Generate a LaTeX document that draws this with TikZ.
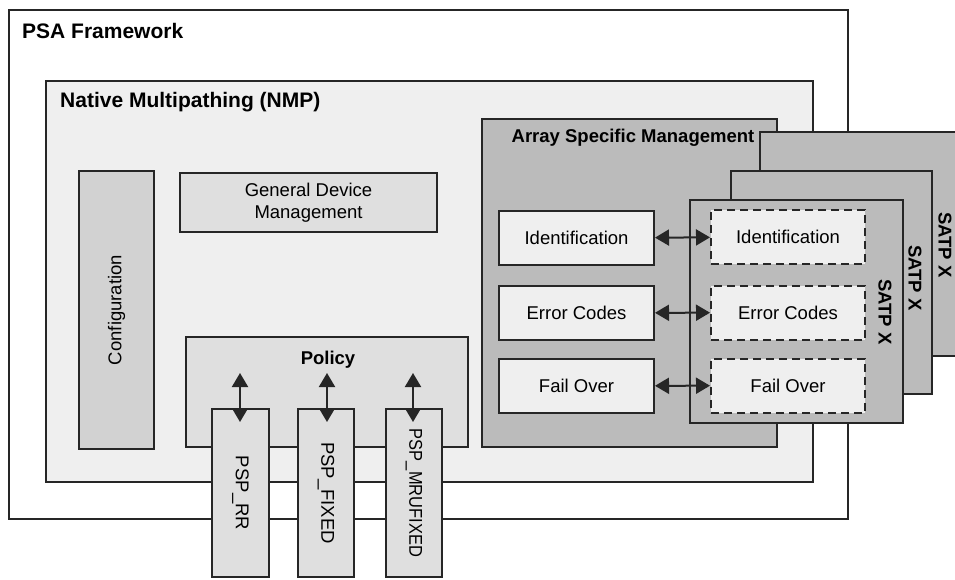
\documentclass[tikz,border=0pt]{standalone}
\usepackage{fontspec}
\setmainfont{Liberation Sans}
\usetikzlibrary{arrows.meta,calc}

\definecolor{edge}{HTML}{262626}
\definecolor{nmpfill}{HTML}{EFEFEF}
\definecolor{cfgfill}{HTML}{D2D2D2}
\definecolor{modfill}{HTML}{DFDFDF}
\definecolor{asmfill}{HTML}{BBBBBB}
\definecolor{itemfill}{HTML}{EFEFEF}

\tikzset{
  box/.style={draw=edge, line width=2pt, rectangle, inner sep=0pt},
  title/.style={font=\fontsize{21}{24}\selectfont\bfseries, anchor=west, inner sep=0pt},
  subtitle/.style={font=\fontsize{18.5}{22}\selectfont\bfseries, inner sep=0pt},
  body/.style={font=\fontsize{18.5}{21.7}\selectfont, align=center},
  item/.style={box, fill=itemfill, body, minimum width=155pt, minimum height=54pt},
  satpitem/.style={item, dash pattern=on 8pt off 5pt, minimum width=154pt},
  satpbox/.style={draw=edge, line width=2pt, fill=asmfill},
  psp/.style={box, fill=modfill, body, minimum width=57pt, minimum height=168pt},
  link/.style={draw=edge, line width=2pt, {Triangle[length=14pt,width=16pt]}-{Triangle[length=14pt,width=16pt]}}
}

\begin{document}
\begin{tikzpicture}[x=1pt,y=-1pt]
\useasboundingbox (0,0) rectangle (955,579);

% outer framework and NMP container
\node[box, fill=white, minimum width=839pt, minimum height=509pt] (psa) at (428.5,264.5) {};
\node[title] (psalabel) at (22,31) {PSA Framework};
\node[box, fill=nmpfill, minimum width=767pt, minimum height=401pt] (nmp) at (429.5,281.5) {};
\node[title] (nmplabel) at (60,102) {Native Multipathing (NMP)};

% general modules
\node[box, fill=cfgfill, minimum width=75pt, minimum height=278pt] (cfg) at (116.5,310) {};
\node[body, rotate=90] (cfglabel) at (cfg.center) {Configuration};
\node[box, fill=modfill, body, minimum width=257pt, minimum height=59pt] (gdm) at (308.5,202.5) {General Device\\Management};

% policy and path selection plugins
\node[box, fill=modfill, minimum width=282pt, minimum height=110pt] (policy) at (327,392) {};
\node[subtitle] (policylabel) at (328,360) {Policy};
\node[psp] (rr) at (240.5,493) {};
\node[psp, minimum width=56pt] (fixed) at (326,493) {};
\node[psp, minimum width=56pt] (mru) at (414,493) {};
\node[body, rotate=-90] at (rr.center) {PSP\_RR};
\node[body, rotate=-90] at (fixed.center) {PSP\_FIXED};
\node[body, rotate=-90] at (mru.center) {\scalebox{0.89}[1]{PSP\_MRUFIXED}};
\foreach \p/\dx in {rr/-0.5, fixed/1, mru/-1} {
  \coordinate (\p top) at ($(\p.north)+(\dx,-35)$);
  \coordinate (\p bot) at ($(\p.north)+(\dx,14)$);
  \draw[link] (\p top) -- (\p bot);
}

% array specific management
\node[box, fill=asmfill, minimum width=295pt, minimum height=328pt] (asm) at (629.5,283) {};
\node[subtitle] (asmlabel) at (633,138) {Array Specific Management};

% stacked SATP plugins
\draw[satpbox] (760,132) rectangle (975,356);
\draw[satpbox] (731,171) rectangle (932,394);
\node[box, fill=asmfill, minimum width=213pt, minimum height=223pt] (satp) at (796.5,311.5) {};
\node[subtitle, rotate=-90] at (945,245) {SATP X};
\node[subtitle, rotate=-90] at (915,278) {SATP X};
\node[subtitle, rotate=-90] at (885,312) {SATP X};

% management functions and their SATP counterparts
\node[item] (id) at (576.5,238) {Identification};
\node[item] (err) at (576.5,313) {Error Codes};
\node[item] (fo) at (576.5,386) {Fail Over};
\node[satpitem] (sid) at (788,237) {Identification};
\node[satpitem] (serr) at (788,312.5) {Error Codes};
\node[satpitem] (sfo) at (788,385.5) {Fail Over};
\draw[link] (id) -- (sid);
\draw[link] (err) -- (serr);
\draw[link] (fo) -- (sfo);
\end{tikzpicture}
\end{document}
